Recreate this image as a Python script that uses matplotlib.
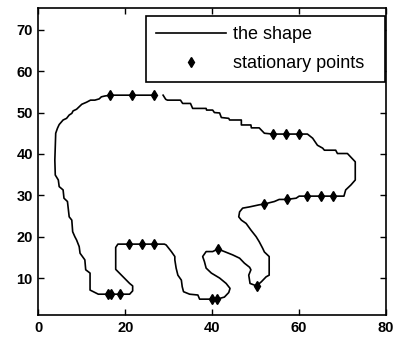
import numpy as np
import matplotlib
matplotlib.use("Agg")
import matplotlib.pyplot as plt

plt.rcParams['font.family'] = ['Liberation Sans', 'DejaVu Sans']

# outline of the shape (nan = small gap in the traced boundary)
shape_x = [16.6, 21.65, 26.6, np.nan, 28.7, 29.3, 29.7, 32.7, 33.2, 35.0, 35.5, 38.6, 38.7, 40.1,
           40.5, 41.7, 42.1, 43.8, 44.0, 46.7, 46.7, 48.9, 49.0, 50.8, 52.0, 53.9, 57.0, 60.0,
           61.9, 63.1, 64.2, 65.4, 65.8, 68.4, 68.8, 71.1, 72.9, 72.9, 71.9, 70.7, 70.3, 67.7,
           65.0, 61.9, 60.0, 59.3, 57.1, 55.4, 54.3, 52.0, 50.8, 48.6, 47.0, 46.3, 46.1, 46.7,
           47.8, 48.9, 50.1, 50.8, 51.6, 52.0, 53.1, 53.1, 52.4, 51.3, 50.2, 48.7, 48.4, 48.9,
           48.6, 47.4, 46.3, 44.7, 42.8, 41.3, 40.1, 38.6, 37.8, 38.2, 38.6, 39.8, 41.7, 43.2,
           44.1, 43.8, 42.8, 41.1, 39.9, 37.1, 36.7, 34.8, 33.4, 33.1, 32.9, 32.1, 31.7, 31.4,
           31.4, 30.6, 29.4, 29.0, 26.6, 23.9, 20.9, 18.3, 17.8, 17.8, 21.0, 21.7, 21.7, 21.0,
           18.9, 16.7, 16.1, 13.8, 11.9, 11.9, 10.9, 10.7, 9.6, 9.4, 8.8, 8.4, 7.9, 7.7, 7.1,
           6.7, 5.9, 5.7, 4.8, 4.6, 3.9, 3.8, 4.0, 4.4, 4.8, 5.7, 6.5, 7.1, 7.7, 8.0, 8.8, 9.4,
           10.0, 11.1, 12.0, 13.0, 14.0, 14.5, 15.3, 16.6]
shape_y = [54.2, 54.2, 54.2, np.nan, 54.2, 53.2, 53.0, 53.0, 52.2, 52.2, 51.0, 51.0, 50.6, 50.6,
           50.0, 49.9, 48.8, 48.6, 48.2, 48.2, 47.0, 47.0, 46.3, 46.3, 45.0, 44.8, 44.8, 44.8,
           44.8, 43.8, 42.1, 41.4, 40.9, 40.9, 40.1, 40.1, 38.1, 33.7, 32.5, 31.3, 29.8, 29.8,
           29.8, 29.8, 29.8, 29.3, 29.0, 29.0, 28.5, 27.9, 27.7, 27.2, 26.9, 26.0, 24.8, 24.0,
           23.2, 21.6, 20.0, 18.8, 17.2, 16.3, 15.2, 10.7, 10.3, 9.1, 8.1, 8.7, 10.7, 12.0,
           12.6, 13.6, 14.8, 15.6, 16.4, 17.0, 16.4, 16.4, 15.2, 14.0, 12.4, 11.2, 10.0, 8.7,
           7.5, 6.5, 5.4, 4.9, 4.9, 4.9, 5.9, 6.1, 6.7, 7.9, 9.5, 10.7, 12.4, 14.4,
           15.2, 16.4, 18.0, 18.2, 18.2, 18.2, 18.2, 18.2, 17.4, 12.1, 8.7, 8.1, 6.9, 6.1,
           6.1, 6.1, 6.1, 6.1, 7.1, 11.2, 12.0, 14.4, 16.0, 17.6, 19.2, 20.0, 21.2, 24.0, 24.8,
           28.5, 29.3, 31.3, 32.1, 33.7, 34.9, 38.5, 45.0, 46.2, 47.1, 48.2, 48.6, 49.4, 49.8,
           50.4, 50.8, 51.4, 52.0, 52.5, 53.0, 53.0, 53.3, 53.8, 54.0, 54.2]

# stationary points
stat_x = [16.6, 21.65, 26.6, 53.9, 57.0, 60.0, 67.7, 65.0, 61.9, 57.1, 52.0, 50.2, 41.3,
          41.1, 39.9, 26.6, 23.9, 20.9, 18.9, 16.7, 16.1]
stat_y = [54.2, 54.2, 54.2, 44.8, 44.8, 44.8, 29.8, 29.8, 29.8, 29.0, 27.9, 8.1, 17.0,
          4.9, 4.9, 18.2, 18.2, 18.2, 6.1, 6.1, 6.1]

fig = plt.figure(figsize=(3.93, 3.41), dpi=100)
ax = fig.add_axes([0.0975, 0.0754, 0.885, 0.9003])

ax.plot(shape_x, shape_y, color='black', lw=1.2, label='the shape')
ax.plot(stat_x, stat_y, 'd', color='black', markersize=5.5, label='stationary points')

ax.set_xlim(0, 80)
ax.set_ylim(1, 75.2)
ax.set_xticks([0, 20, 40, 60, 80])
ax.set_yticks([10, 20, 30, 40, 50, 60, 70])
ax.tick_params(direction='in', length=4, width=1, top=True, right=True,
               labelsize=10.5, pad=4)
for lab in ax.get_xticklabels() + ax.get_yticklabels():
    lab.set_fontweight('bold')
for s in ax.spines.values():
    s.set_linewidth(1.2)

leg = ax.legend(loc='upper left', bbox_to_anchor=(0.31, 0.766, 0.687, 0.209), mode='expand',
                borderaxespad=0, fancybox=False, edgecolor='black', framealpha=1,
                fontsize=13, handlelength=3.9, handletextpad=0.35, labelspacing=0.67,
                borderpad=0.55)
leg.get_frame().set_linewidth(1.2)

fig.savefig('out.png', dpi=100)
